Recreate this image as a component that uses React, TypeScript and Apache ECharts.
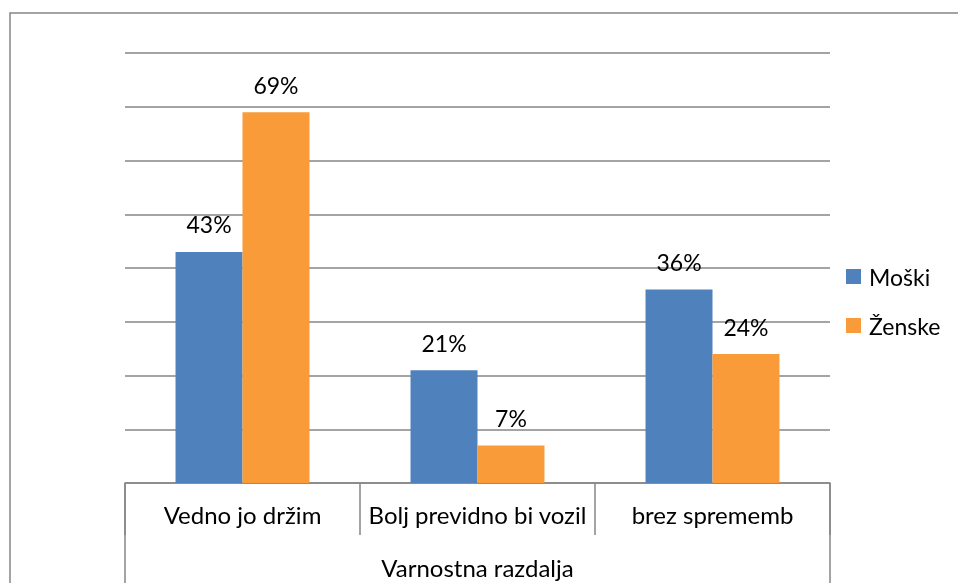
import React, { useEffect, useRef } from "react";
import * as echarts from "echarts";

const categories = ["Vedno jo držim", "Bolj previdno bi vozil", "brez sprememb"];
const groupLabel = ["Varnostna razdalja"];
const moski = [43, 21, 36];
const zenske = [69, 7, 24];
const seriesNames = ["Moški", "Ženske"];

const FONT = "Lato";
const FS = 23;
const GRAY = "#868686";

export default function App() {
  const ref = useRef<HTMLDivElement>(null);
  useEffect(() => {
    document.body.style.margin = "0";
    const chart = echarts.init(ref.current!, null, { renderer: "svg" });
    const label = {
      show: true,
      position: "top",
      distance: 16,
      formatter: "{c}%",
      fontFamily: FONT,
      fontSize: FS,
      color: "#000",
    };
    chart.setOption({
      animation: false,
      textStyle: { fontFamily: FONT },
      graphic: [
        {
          type: "rect",
          shape: { x: 10, y: 13, width: 1000, height: 1000 },
          style: { fill: "none", stroke: GRAY, lineWidth: 1.5 },
          silent: true,
        },
      ],
      grid: { left: 125, right: 128, top: 53, bottom: 100, containLabel: false },
      legend: {
        orient: "vertical",
        left: 841,
        top: 260,
        itemWidth: 15,
        itemHeight: 15,
        itemGap: 26,
        icon: "rect",
        textStyle: { fontFamily: FONT, fontSize: FS, color: "#000", padding: [0, 0, 0, 3] },
        data: seriesNames,
      },
      xAxis: [
        {
          type: "category",
          data: categories,
          position: "bottom",
          axisLine: { lineStyle: { color: GRAY, width: 1.5 } },
          axisTick: { show: true, length: 52, interval: 0, lineStyle: { color: GRAY, width: 1.5 } },
          axisLabel: { interval: 0, fontFamily: FONT, fontSize: 24, color: "#000", margin: 19 },
        },
        {
          type: "category",
          data: groupLabel,
          position: "bottom",
          axisLine: { show: false },
          axisTick: { show: true, length: 110, interval: 0, lineStyle: { color: GRAY, width: 1.5 } },
          axisLabel: { interval: 0, fontFamily: FONT, fontSize: 24, color: "#000", margin: 72 },
        },
      ],
      yAxis: {
        type: "value",
        min: 0,
        max: 80,
        interval: 10,
        axisLine: { show: false },
        axisTick: { show: false },
        axisLabel: { show: false },
        splitLine: { lineStyle: { color: GRAY, width: 1.5 } },
      },
      series: [
        {
          name: seriesNames[0],
          type: "bar",
          data: moski,
          barGap: "0%",
          barCategoryGap: "43%",
          itemStyle: { color: "#4F81BD" },
          label,
        },
        {
          name: seriesNames[1],
          type: "bar",
          data: zenske,
          barGap: "0%",
          barCategoryGap: "43%",
          itemStyle: { color: "#F99B38" },
          label,
        },
      ],
    });
    return () => chart.dispose();
  }, []);
  return <div ref={ref} style={{ position: "fixed", left: 0, top: 0, width: 958, height: 583 }} />;
}
